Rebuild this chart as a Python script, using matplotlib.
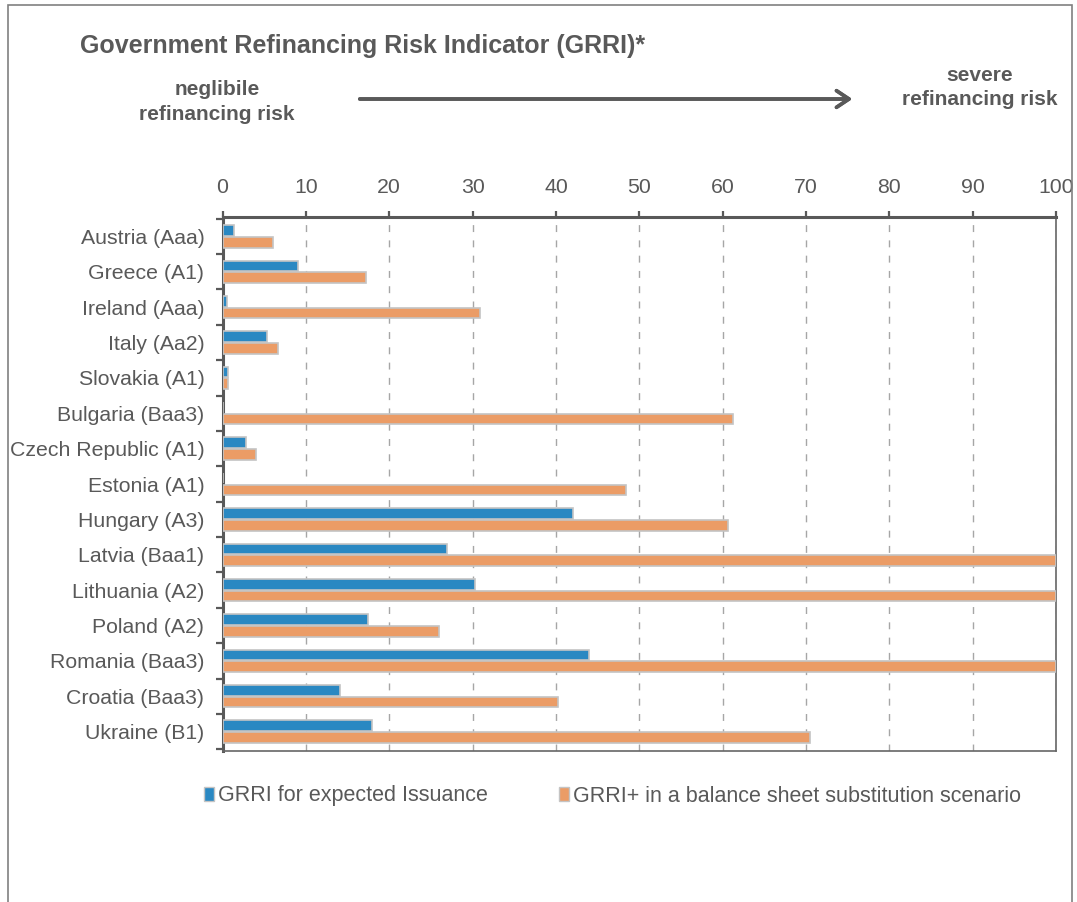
import matplotlib
matplotlib.use('Agg')
import matplotlib.pyplot as plt
import numpy as np
from matplotlib.patches import Patch, Rectangle

plt.rcParams['font.family'] = ['Liberation Sans', 'DejaVu Sans']

# data
countries = ['Austria (Aaa)', 'Greece (A1)', 'Ireland (Aaa)', 'Italy (Aa2)', 'Slovakia (A1)',
             'Bulgaria (Baa3)', 'Czech Republic (A1)', 'Estonia (A1)', 'Hungary (A3)',
             'Latvia (Baa1)', 'Lithuania (A2)', 'Poland (A2)', 'Romania (Baa3)',
             'Croatia (Baa3)', 'Ukraine (B1)']
grri = [1.4, 9.0, 0.5, 5.3, 0.6, 0.0, 2.8, 0.0, 42.0, 26.9, 30.3, 17.5, 44.0, 14.1, 17.9]
grri_plus = [6.0, 17.2, 30.9, 6.7, 0.6, 61.3, 4.0, 48.4, 60.6, 100, 100, 26.0, 100, 40.3, 70.5]
xticks = list(range(0, 101, 10))

label_grri = 'GRRI for expected Issuance'
label_plus = 'GRRI+ in a balance sheet substitution scenario'

BLUE = '#2a88c2'
ORANGE = '#eb9c66'
EDGE = '#c4c4c4'
GREY = '#595959'

W, H = 1077, 902
fig = plt.figure(figsize=(W / 100, H / 100), dpi=100)
ax = fig.add_axes([222.5 / W, 1 - 751 / H, 833.5 / W, (751 - 217) / H])

y = np.arange(len(countries))
ax.barh(y - 0.165, grri, height=0.3, color=BLUE, edgecolor=EDGE, linewidth=1.2, zorder=3)
ax.barh(y + 0.165, grri_plus, height=0.3, color=ORANGE, edgecolor=EDGE, linewidth=1.2, zorder=3)

ax.set_xlim(0, 100)
ax.set_ylim(len(countries) - 0.45, -0.55)
ax.xaxis.tick_top()
ax.set_xticks(xticks)
ax.set_yticks(y)
ax.set_yticklabels(countries)
ax.set_yticks(np.arange(-0.5, len(countries), 1.0), minor=True)

ax.tick_params(axis='x', which='major', length=4.5, width=1.6, color=GREY,
               labelsize=15.3, labelcolor=GREY, pad=10)
ax.tick_params(axis='y', which='major', length=0, labelsize=15.3, labelcolor=GREY, pad=13)
ax.tick_params(axis='y', which='minor', length=5, width=1.6, color=GREY)
ax.tick_params(axis='x', which='minor', length=0)

ax.set_axisbelow(True)
ax.xaxis.grid(True, color='#a6a6a6', linewidth=1, linestyle=(0, (5, 6)))

for side in ['top', 'left']:
    ax.spines[side].set_color(GREY)
    ax.spines[side].set_linewidth(2.2)
for side in ['right', 'bottom']:
    ax.spines[side].set_color('#666666')
    ax.spines[side].set_linewidth(1.2)

# outer frame
fig.patches.append(Rectangle((8 / W, -0.02), (1072 - 8) / W, 1.02 - 5 / H, transform=fig.transFigure,
                             fill=False, edgecolor='#808080', linewidth=1.2))

fig.text(80 / W, 1 - 53 / H, 'Government Refinancing Risk Indicator (GRRI)*', fontsize=18,
         fontweight='bold', color=GREY, va='baseline')
fig.text(217 / W, 1 - 95 / H, 'neglibile', fontsize=15, fontweight='bold', color=GREY,
         ha='center', va='baseline')
fig.text(217 / W, 1 - 120 / H, 'refinancing risk', fontsize=15, fontweight='bold', color=GREY,
         ha='center', va='baseline')
fig.text(980 / W, 1 - 81 / H, 'severe', fontsize=15, fontweight='bold', color=GREY,
         ha='center', va='baseline')
fig.text(980 / W, 1 - 105 / H, 'refinancing risk', fontsize=15, fontweight='bold', color=GREY,
         ha='center', va='baseline')

fig.add_artist(plt.annotate('', xy=(855 / W, 1 - 99 / H), xytext=(357 / W, 1 - 99 / H),
                            xycoords='figure fraction', textcoords='figure fraction',
                            arrowprops=dict(arrowstyle='->,head_length=0.45,head_width=0.3',
                                            color=GREY, lw=2.6, mutation_scale=20)))

handles = [Patch(facecolor=BLUE, edgecolor=EDGE), Patch(facecolor=ORANGE, edgecolor=EDGE)]
fig.legend(handles, [label_grri, label_plus], loc='center left',
           bbox_to_anchor=(204 / W, 1 - 796 / H), ncol=2, frameon=False, fontsize=15.5,
           labelcolor=GREY, handlelength=0.45, handleheight=0.6, handletextpad=0.2,
           columnspacing=3.3, borderpad=0, borderaxespad=0)

fig.savefig('out.png', dpi=100)
